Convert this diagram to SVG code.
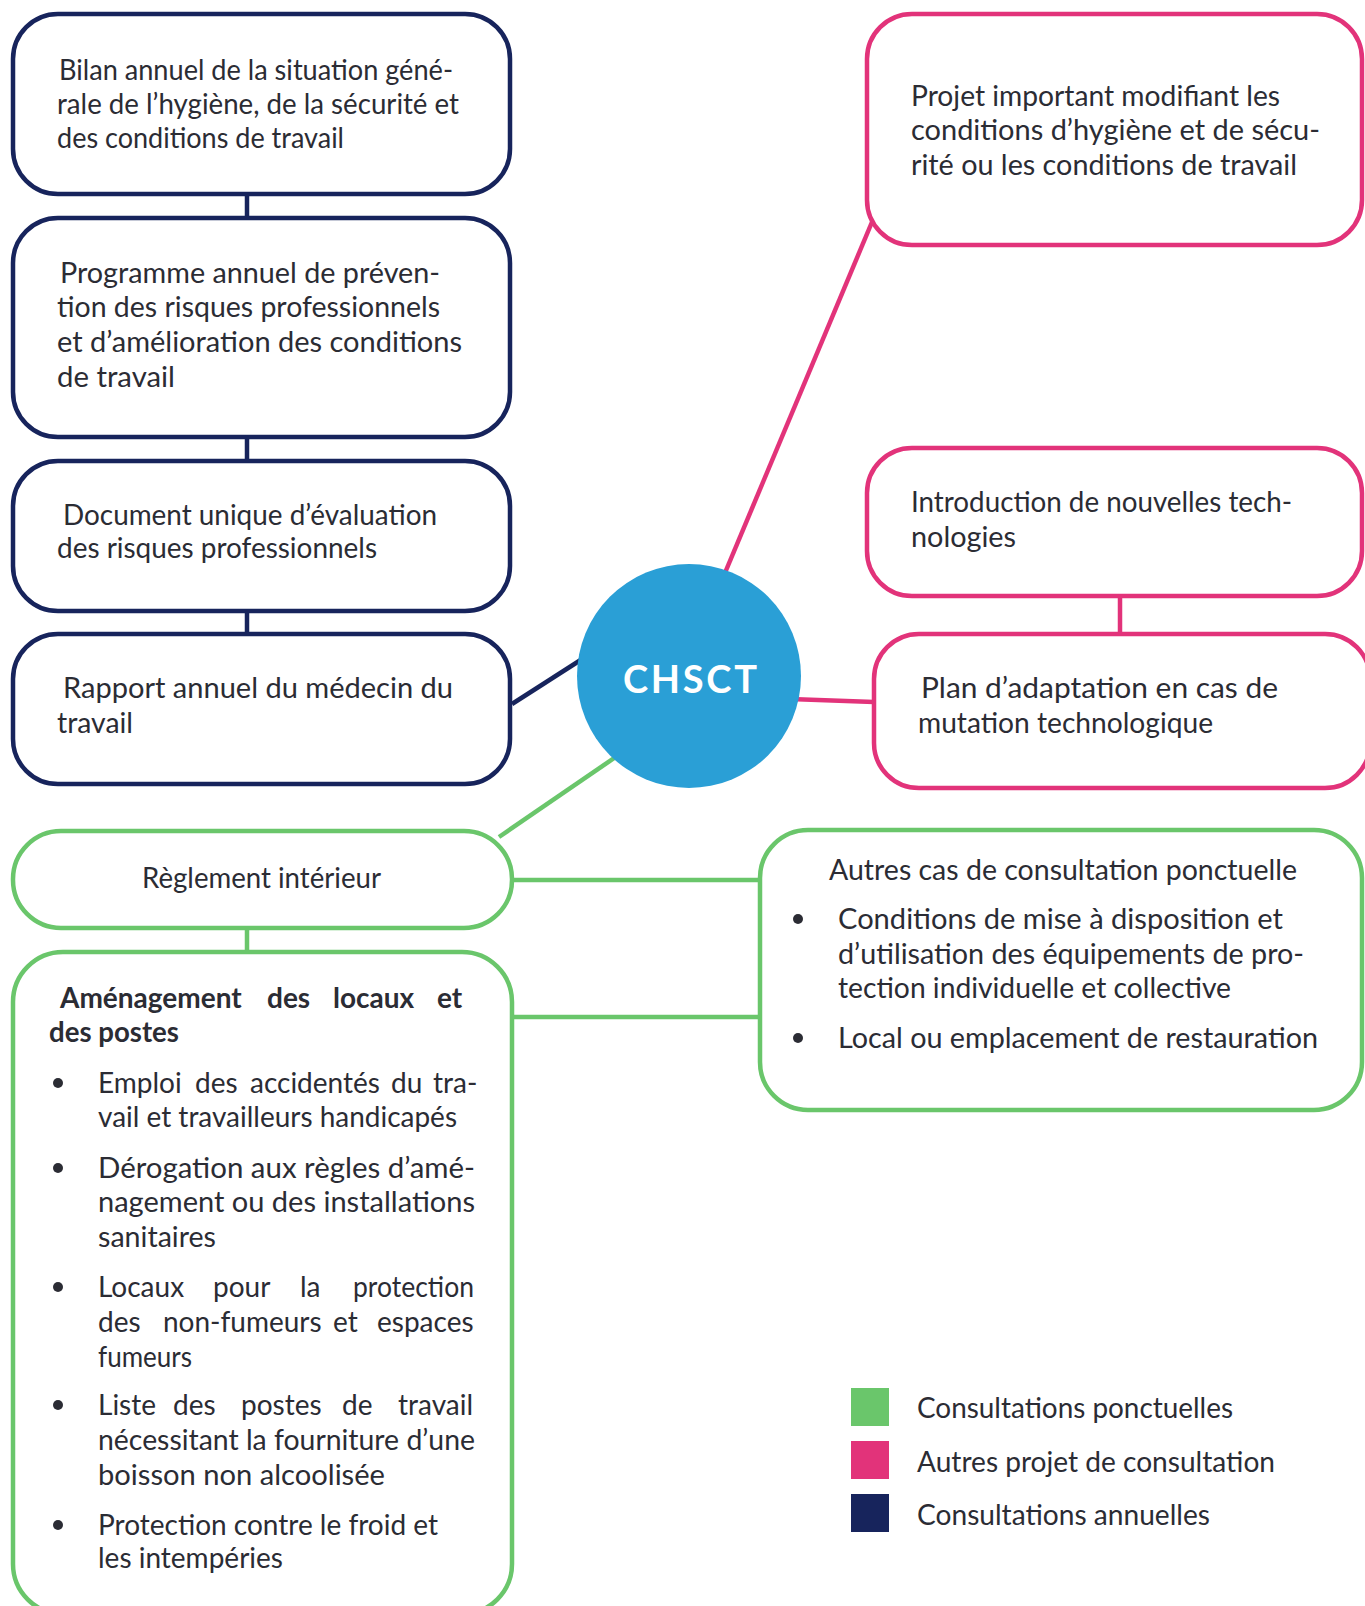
<svg xmlns="http://www.w3.org/2000/svg" width="1365" height="1606" viewBox="0 0 1365 1606">
  <style>
    .box { fill: #ffffff; stroke-width: 4.5; }
    .navy { stroke: #17245c; }
    .pink { stroke: #e2337a; }
    .green { stroke: #6ac66b; }
    .link { fill: none; stroke-width: 4.5; }
    .t { font-family: Lato, "Liberation Sans", sans-serif; font-size: 28px; fill: #2b2c34; }
    .b { font-weight: bold; }
    .dot { fill: #2b2c34; }
    .hub { font-family: Lato, "Liberation Sans", sans-serif; font-size: 38px; font-weight: bold; fill: #ffffff; }
  </style>

  <!-- connectors -->
  <g id="connectors">
    <line class="link navy" x1="247" y1="194" x2="247" y2="218"/>
    <line class="link navy" x1="247" y1="437" x2="247" y2="461"/>
    <line class="link navy" x1="247" y1="611" x2="247" y2="634"/>
    <line class="link navy" x1="512" y1="704" x2="590" y2="654"/>
    <line class="link pink" x1="722" y1="580" x2="872" y2="222"/>
    <line class="link pink" x1="790" y1="699" x2="874" y2="702"/>
    <line class="link pink" x1="1120" y1="596" x2="1120" y2="634"/>
    <line class="link green" x1="499" y1="837" x2="620" y2="754"/>
    <line class="link green" x1="247" y1="928" x2="247" y2="952"/>
    <line class="link green" x1="512" y1="880" x2="760" y2="880"/>
    <line class="link green" x1="512" y1="1017" x2="760" y2="1017"/>
  </g>

  <!-- central node -->
  <g id="chsct">
    <circle cx="689" cy="676" r="112" fill="#2a9fd6"/>
    <text class="hub" x="623" y="693" textLength="134" lengthAdjust="spacing">CHSCT</text>
  </g>

  <!-- annual consultations -->
  <g id="bilan">
    <rect class="box navy" x="13" y="14" width="497" height="180" rx="45"/>
    <text class="t" x="59" y="80" textLength="394" lengthAdjust="spacingAndGlyphs">Bilan annuel de la situation géné-</text>
    <text class="t" x="57" y="114" textLength="402" lengthAdjust="spacingAndGlyphs">rale de l’hygiène, de la sécurité et</text>
    <text class="t" x="57" y="148" textLength="287" lengthAdjust="spacingAndGlyphs">des conditions de travail</text>
  </g>

  <g id="programme">
    <rect class="box navy" x="13" y="218" width="497" height="219" rx="45"/>
    <text class="t" x="60" y="283" textLength="380" lengthAdjust="spacingAndGlyphs">Programme annuel de préven-</text>
    <text class="t" x="57" y="317" textLength="383" lengthAdjust="spacingAndGlyphs">tion des risques professionnels</text>
    <text class="t" x="57" y="352" textLength="405" lengthAdjust="spacingAndGlyphs">et d’amélioration des conditions</text>
    <text class="t" x="57" y="387" textLength="118" lengthAdjust="spacingAndGlyphs">de travail</text>
  </g>

  <g id="document-unique">
    <rect class="box navy" x="13" y="461" width="497" height="150" rx="45"/>
    <text class="t" x="63" y="525" textLength="374" lengthAdjust="spacingAndGlyphs">Document unique d’évaluation</text>
    <text class="t" x="57" y="558" textLength="320" lengthAdjust="spacingAndGlyphs">des risques professionnels</text>
  </g>

  <g id="rapport-medecin">
    <rect class="box navy" x="13" y="634" width="497" height="150" rx="45"/>
    <text class="t" x="63" y="698" textLength="390" lengthAdjust="spacingAndGlyphs">Rapport annuel du médecin du</text>
    <text class="t" x="57" y="733" textLength="76" lengthAdjust="spacingAndGlyphs">travail</text>
  </g>

  <!-- other consultation projects -->
  <g id="projet-important">
    <rect class="box pink" x="867" y="14" width="495" height="231" rx="45"/>
    <text class="t" x="911" y="106" textLength="369" lengthAdjust="spacingAndGlyphs">Projet important modifiant les</text>
    <text class="t" x="911" y="140" textLength="409" lengthAdjust="spacingAndGlyphs">conditions d’hygiène et de sécu-</text>
    <text class="t" x="911" y="175" textLength="386" lengthAdjust="spacingAndGlyphs">rité ou les conditions de travail</text>
  </g>

  <g id="nouvelles-technologies">
    <rect class="box pink" x="867" y="448" width="495" height="148" rx="45"/>
    <text class="t" x="911" y="512" textLength="381" lengthAdjust="spacingAndGlyphs">Introduction de nouvelles tech-</text>
    <text class="t" x="911" y="547" textLength="105" lengthAdjust="spacingAndGlyphs">nologies</text>
  </g>

  <g id="plan-adaptation">
    <rect class="box pink" x="874" y="634" width="496" height="154" rx="45"/>
    <text class="t" x="921" y="698" textLength="357" lengthAdjust="spacingAndGlyphs">Plan d’adaptation en cas de</text>
    <text class="t" x="918" y="733" textLength="295" lengthAdjust="spacingAndGlyphs">mutation technologique</text>
  </g>

  <!-- one-off consultations -->
  <g id="reglement">
    <rect class="box green" x="13" y="831" width="499" height="97" rx="48"/>
    <text class="t" x="142" y="888" textLength="239" lengthAdjust="spacingAndGlyphs">Règlement intérieur</text>
  </g>

  <g id="amenagement">
    <rect class="box green" x="13" y="952" width="499" height="662" rx="50"/>
    <text class="t b" y="1008"><tspan x="60">Aménagement</tspan><tspan x="267">des</tspan><tspan x="333">locaux</tspan><tspan x="437">et</tspan></text>
    <text class="t b" x="49" y="1042" textLength="130" lengthAdjust="spacingAndGlyphs">des postes</text>

    <circle class="dot" cx="58" cy="1083" r="5"/>
    <text class="t" y="1093"><tspan x="98">Emploi</tspan><tspan x="195">des</tspan><tspan x="250">accidentés</tspan><tspan x="391">du</tspan><tspan x="433">tra-</tspan></text>
    <text class="t" x="98" y="1127" textLength="359" lengthAdjust="spacingAndGlyphs">vail et travailleurs handicapés</text>

    <circle class="dot" cx="58" cy="1168" r="5"/>
    <text class="t" x="98" y="1178" textLength="377" lengthAdjust="spacingAndGlyphs">Dérogation aux règles d’amé-</text>
    <text class="t" x="98" y="1212" textLength="377" lengthAdjust="spacingAndGlyphs">nagement ou des installations</text>
    <text class="t" x="98" y="1247" textLength="118" lengthAdjust="spacingAndGlyphs">sanitaires</text>

    <circle class="dot" cx="58" cy="1287" r="5"/>
    <text class="t" y="1297"><tspan x="98">Locaux</tspan><tspan x="213">pour</tspan><tspan x="300">la</tspan><tspan x="353" textLength="121" lengthAdjust="spacingAndGlyphs">protection</tspan></text>
    <text class="t" y="1332"><tspan x="98">des</tspan><tspan x="163">non-fumeurs</tspan><tspan x="333">et</tspan><tspan x="377">espaces</tspan></text>
    <text class="t" x="98" y="1367" textLength="94" lengthAdjust="spacingAndGlyphs">fumeurs</text>

    <circle class="dot" cx="58" cy="1405" r="5"/>
    <text class="t" y="1415"><tspan x="98">Liste</tspan><tspan x="173">des</tspan><tspan x="241">postes</tspan><tspan x="342">de</tspan><tspan x="398">travail</tspan></text>
    <text class="t" x="98" y="1450" textLength="377" lengthAdjust="spacingAndGlyphs">nécessitant la fourniture d’une</text>
    <text class="t" x="98" y="1485" textLength="287" lengthAdjust="spacingAndGlyphs">boisson non alcoolisée</text>

    <circle class="dot" cx="58" cy="1525" r="5"/>
    <text class="t" x="98" y="1535" textLength="340" lengthAdjust="spacingAndGlyphs">Protection contre le froid et</text>
    <text class="t" x="98" y="1568" textLength="185" lengthAdjust="spacingAndGlyphs">les intempéries</text>
  </g>

  <g id="autres-cas">
    <rect class="box green" x="760" y="830" width="602" height="280" rx="48"/>
    <text class="t" x="829" y="880" textLength="468" lengthAdjust="spacingAndGlyphs">Autres cas de consultation ponctuelle</text>
    <circle class="dot" cx="798" cy="919" r="5"/>
    <text class="t" x="838" y="929" textLength="445" lengthAdjust="spacingAndGlyphs">Conditions de mise à disposition et</text>
    <text class="t" x="838" y="964" textLength="466" lengthAdjust="spacingAndGlyphs">d’utilisation des équipements de pro-</text>
    <text class="t" x="838" y="998" textLength="393" lengthAdjust="spacingAndGlyphs">tection individuelle et collective</text>
    <circle class="dot" cx="798" cy="1038" r="5"/>
    <text class="t" x="838" y="1048" textLength="480" lengthAdjust="spacingAndGlyphs">Local ou emplacement de restauration</text>
  </g>

  <!-- legend -->
  <g id="legend">
    <rect x="851" y="1388" width="38" height="38" fill="#6ac66b"/>
    <text class="t" x="917" y="1418" textLength="316" lengthAdjust="spacingAndGlyphs">Consultations ponctuelles</text>
    <rect x="851" y="1441" width="38" height="38" fill="#e2337a"/>
    <text class="t" x="917" y="1472" textLength="358" lengthAdjust="spacingAndGlyphs">Autres projet de consultation</text>
    <rect x="851" y="1494" width="38" height="38" fill="#17245c"/>
    <text class="t" x="917" y="1525" textLength="293" lengthAdjust="spacingAndGlyphs">Consultations annuelles</text>
  </g>
</svg>
